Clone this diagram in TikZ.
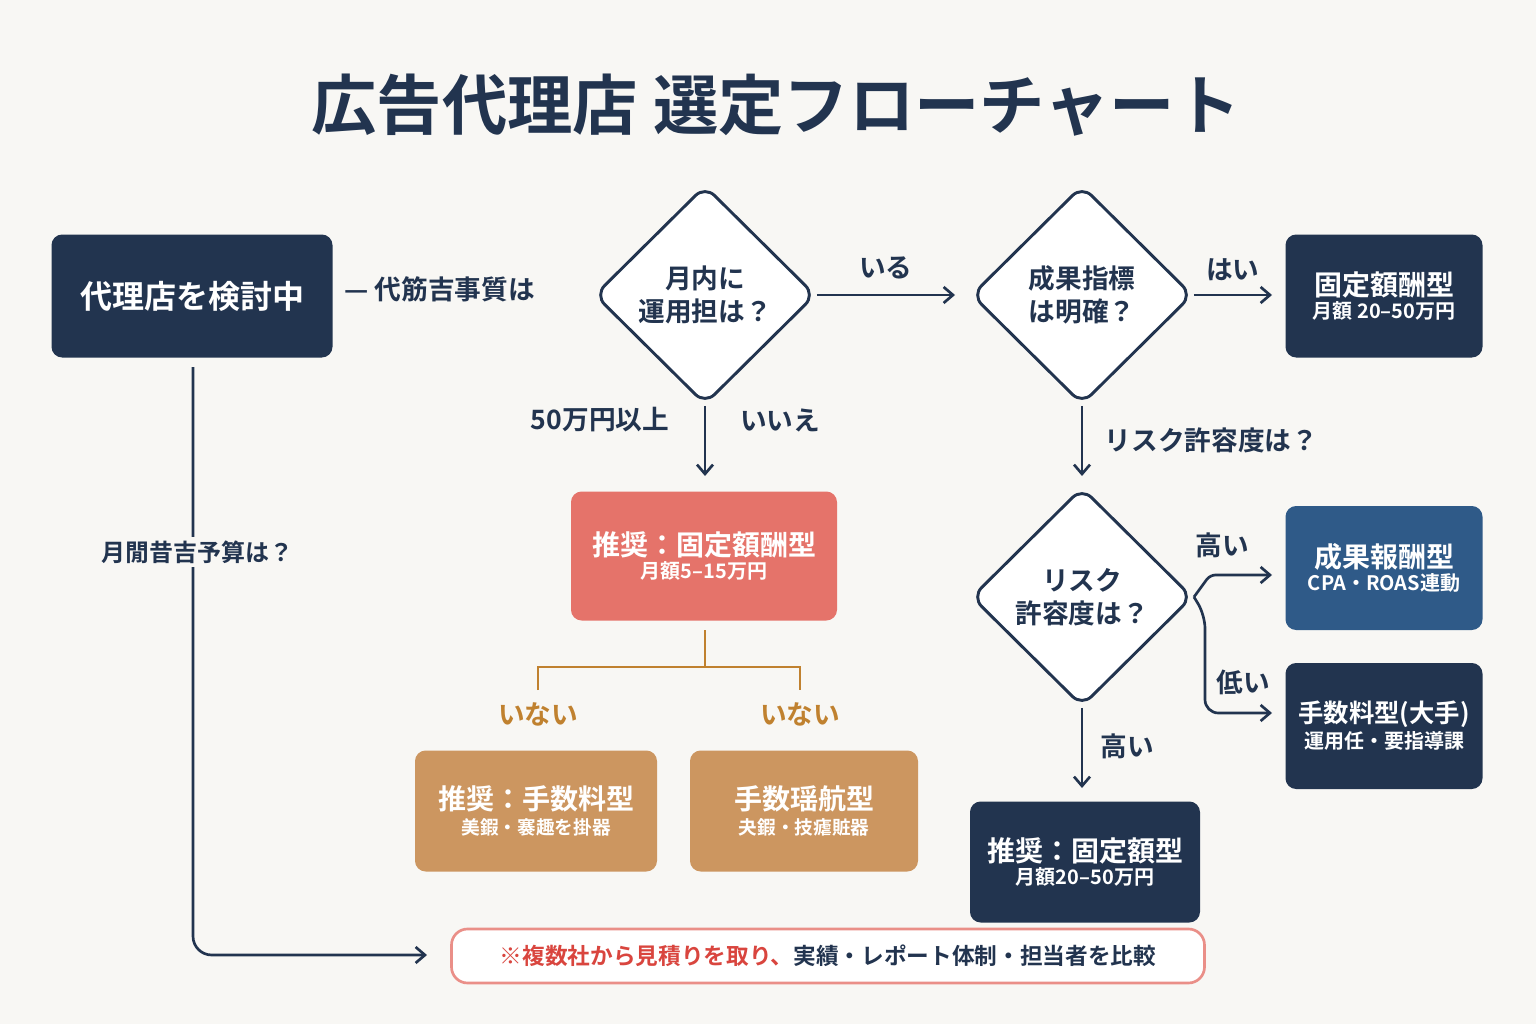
\documentclass[tikz,border=0pt]{standalone}
\usepackage{fontspec}
\setmainfont{Noto Sans CJK JP}[BoldFont={* Bold}]
\usetikzlibrary{shapes.geometric,arrows.meta}
\definecolor{navy}{HTML}{22344F}
\definecolor{bluebox}{HTML}{2F5A88}
\definecolor{pinkbox}{HTML}{E5736A}
\definecolor{tan}{HTML}{CC9660}
\definecolor{ora}{HTML}{C0812F}
\definecolor{redt}{HTML}{D9453E}
\definecolor{bg}{HTML}{F8F7F4}
\begin{document}
\begin{tikzpicture}[x=0.75pt,y=-0.75pt,
  box/.style={rounded corners=8pt,draw=none,text=white,align=center,font=\bfseries},
  dia/.style={diamond,draw=navy,line width=2.2pt,rounded corners=10pt,fill=white,align=center,text=navy,font=\fontsize{20}{25}\selectfont\bfseries,minimum width=221*0.75pt,minimum height=219*0.75pt,inner sep=0pt},
  ln/.style={draw=navy,line width=2pt},
  arr/.style={ln,-{Straight Barb[length=7pt,width=12pt,line width=2pt]}},
  lab/.style={text=navy,font=\fontsize{20}{24}\selectfont\bfseries},
  big/.style={font=\fontsize{22}{24}\selectfont\bfseries},
  small/.style={font=\fontsize{15}{18}\selectfont\bfseries}]
\fill[bg] (0,0) rectangle (1536,1024);
\useasboundingbox (0,0) rectangle (1536,1024);
\node[text=navy,font=\fontsize{49}{55}\selectfont\bfseries] (title) at (776,105) {広告代理店 選定フローチャート};
% start
\node[box,fill=navy,minimum width=281*0.75pt,minimum height=123*0.75pt,font=\fontsize{24}{28}\selectfont\bfseries] (start) at (192,296) {代理店を検討中};
\node[lab,anchor=west] (q0) at (340,289) {— 代筋吉事質は};
\node[dia] (d1) at (705,295) {月内に\\運用担は？};
\node[dia] (d2) at (1082,295) {成果指標\\は明確？};
\node[dia] (d3) at (1082,597) {リスク\\許容度は？};
% boxes
\node[box,fill=navy,minimum width=197*0.75pt,minimum height=123*0.75pt] (b1) at (1384,296) {\fontsize{21}{24}\selectfont 固定額酬型\\[2pt]\fontsize{15}{18}\selectfont 月額 20–50万円};
\node[box,fill=pinkbox,minimum width=266*0.75pt,minimum height=129*0.75pt] (b2) at (704,556) {\fontsize{21}{24}\selectfont 推奨：固定額酬型\\[2pt]\fontsize{15}{18}\selectfont 月額5–15万円};
\node[box,fill=tan,minimum width=242*0.75pt,minimum height=121*0.75pt] (b3) at (536,811) {\fontsize{21}{24}\selectfont 推奨：手数料型\\[4pt]\fontsize{14}{18}\selectfont 美鍜・褰趣を掛器};
\node[box,fill=tan,minimum width=228*0.75pt,minimum height=121*0.75pt] (b4) at (804,811) {\fontsize{21}{24}\selectfont 手数瑶航型\\[4pt]\fontsize{14}{18}\selectfont 夬鍜・技瘧賍器};
\node[box,fill=bluebox,minimum width=197*0.75pt,minimum height=124*0.75pt] (b5) at (1384,568) {\fontsize{21}{24}\selectfont 成果報酬型\\[2pt]\fontsize{15}{18}\selectfont CPA・ROAS連動};
\node[box,fill=navy,minimum width=197*0.75pt,minimum height=126*0.75pt] (b6) at (1384,726) {\fontsize{19}{24}\selectfont 手数料型(大手)\\[2pt]\fontsize{15}{18}\selectfont 運用任・要指導課};
\node[box,fill=navy,minimum width=230*0.75pt,minimum height=121*0.75pt] (b7) at (1085,862) {\fontsize{21}{24}\selectfont 推奨：固定額型\\[2pt]\fontsize{15}{18}\selectfont 月額20–50万円};
\node[rounded corners=12pt,draw=pinkbox!80,line width=2pt,fill=white,minimum width=753*0.75pt,minimum height=54*0.75pt,font=\fontsize{17}{20}\selectfont\bfseries] (note) at (828,956) {\textcolor{redt}{※複数社から見積りを取り、}\textcolor{navy}{実績・レポート体制・担当者を比較}};
% connectors
\draw[arr] (d1.east) -- (955,295) node[lab,midway,above=8pt] {いる};
\draw[arr] (d2.east) -- (1272,295) node[lab,midway,above=6pt] {はい};
\draw[arr] (d1.south) -- (705,476);
\node[lab] at (600,420) {50万円以上};
\node[lab] at (780,420) {いいえ};
\draw[arr] (d2.south) -- (1082,476);
\node[lab,anchor=west] at (1100,440) {リスク許容度は？};
\coordinate (h5) at (1272,575);
\coordinate (h6) at (1272,713);
\draw[arr,rounded corners=4pt] (d3.east) -- (1210,575) -- (h5);
\draw[arr,rounded corners=10pt] (d3.east) -- (1205,615) -- (1205,713) -- (h6);
\node[lab] at (1222,545) {高い};
\node[lab] at (1243,682) {低い};
\draw[arr] (d3.south) -- (1082,788);
\node[lab] at (1127,746) {高い};
% orange tree
\draw[draw=ora,line width=2pt] (705,630) -- (705,667) (538,690) -- (538,667) -- (800,667) -- (800,690);
\node[lab,text=ora] at (538,714) {いない};
\node[lab,text=ora] at (800,714) {いない};
% left path
\coordinate (nt) at (427,955);
\draw[arr,rounded corners=14pt] (193,367) -- (193,955) -- (nt);
\node[lab,fill=bg,inner sep=3pt,font=\fontsize{18}{22}\selectfont\bfseries] at (197,552) {月閒昔吉予算は？};
\end{tikzpicture}
\end{document}
